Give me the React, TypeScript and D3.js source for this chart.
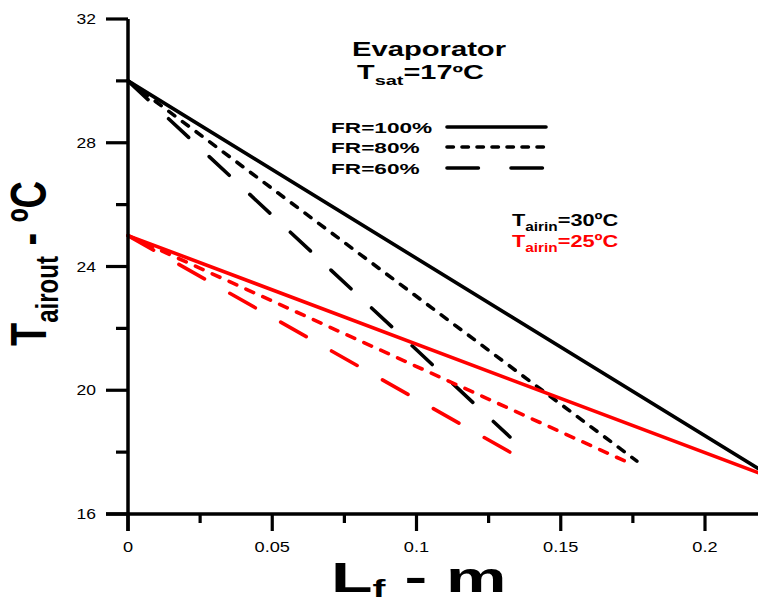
import React from "react";
import * as d3 from "d3";

const W = 758;
const H = 605;

// Data
const frLabels = ["FR=100%", "FR=80%", "FR=60%"];
const black100: [number, number][] = [[0, 30], [0.22, 17.38]];
const black80: [number, number][] = [[0, 30], [0.1764, 17.71]];
const black60: [number, number][] = [[0, 30], [0.1324, 18.49]];
const red100: [number, number][] = [[0, 25], [0.22, 17.28]];
const red80: [number, number][] = [[0, 25], [0.1737, 17.65]];
const red60: [number, number][] = [[0, 25], [0.1324, 18.0]];

const xMajor = [0, 0.05, 0.1, 0.15, 0.2];
const xMinor = [0.025, 0.075, 0.125, 0.175];
const xTickLabels = ["0", "0.05", "0.1", "0.15", "0.2"];
const yMajor = [16, 20, 24, 28, 32];
const yMinor = [18, 22, 26, 30];

const x = d3.scaleLinear().domain([0, 0.2]).range([128, 705]);
const y = d3.scaleLinear().domain([16, 32]).range([514, 19]);

const line = d3
  .line<[number, number]>()
  .x((d) => x(d[0]))
  .y((d) => y(d[1]));

const SW = 3.6;
const dash = (on: number, off: number) => `${on - SW},${off + SW}`;

const series = [
  { data: black100, color: "#000", dash: "none" },
  { data: black80, color: "#000", dash: dash(11, 6) },
  { data: black60, color: "#000", dash: dash(31, 24.5) },
  { data: red100, color: "#ff0000", dash: "none" },
  { data: red80, color: "#ff0000", dash: dash(12, 6.5) },
  { data: red60, color: "#ff0000", dash: dash(33, 25.5) },
];

const legendDash = ["none", dash(10, 5), dash(35, 29)];
const legendY = [127, 147, 168];

const FONT = "Liberation Sans, Arial, sans-serif";

export default function App() {
  return (
    <svg
      width={W}
      height={H}
      style={{ position: "absolute", left: 0, top: 0, background: "#fff" }}
      fontFamily={FONT}
    >
      <rect x={0} y={0} width={W} height={H} fill="#fff" />
      {/* data lines */}
      {series.map((s, i) => (
        <path
          key={i}
          d={line(s.data) || ""}
          fill="none"
          stroke={s.color}
          strokeWidth={SW}
          strokeDasharray={s.dash}
          strokeLinecap="round"
        />
      ))}
      {/* axes */}
      <line x1={x(0)} x2={x(0)} y1={y(32)} y2={y(16) + 17} stroke="#000" strokeWidth={3.5} />
      <line x1={x(0) - 22} x2={x(0.22)} y1={y(16)} y2={y(16)} stroke="#000" strokeWidth={3.5} />
      {xMajor.map((v) => (
        <line key={"xM" + v} x1={x(v)} x2={x(v)} y1={y(16)} y2={y(16) + 17} stroke="#000" strokeWidth={3.2} />
      ))}
      {xMinor.map((v) => (
        <line key={"xm" + v} x1={x(v)} x2={x(v)} y1={y(16)} y2={y(16) + 9} stroke="#000" strokeWidth={3.2} />
      ))}
      {yMajor.map((v) => (
        <line key={"yM" + v} x1={x(0) - 22} x2={x(0)} y1={y(v)} y2={y(v)} stroke="#000" strokeWidth={3.2} />
      ))}
      {yMinor.map((v) => (
        <line key={"ym" + v} x1={x(0) - 12} x2={x(0)} y1={y(v)} y2={y(v)} stroke="#000" strokeWidth={3.2} />
      ))}
      {/* tick labels */}
      {xMajor.map((v, i) => (
        <text
          key={"xl" + v}
          transform={`translate(${x(v)},552) scale(1.3,1)`}
          textAnchor="middle"
          fontSize={14}
        >
          {xTickLabels[i]}
        </text>
      ))}
      {yMajor.map((v) => (
        <text
          key={"yl" + v}
          transform={`translate(96,${y(v) + 5}) scale(1.25,1)`}
          textAnchor="end"
          fontSize={14}
        >
          {v}
        </text>
      ))}
      {/* axis titles */}
      <text transform="translate(331,592) scale(1.62,1)" fontSize={42} fontWeight="bold">
        L<tspan fontSize={24} dy={5}>f</tspan>
        <tspan dy={-5}> - m</tspan>
      </text>
      <text transform="translate(46,346) scale(1.3,1) rotate(-90)" fontSize={38} fontWeight="bold">
        T<tspan fontSize={24} dy={9.5}>airout</tspan>
        <tspan dy={-9.5}> - ºC</tspan>
      </text>
      {/* title */}
      <text transform="translate(429,56) scale(1.46,1)" textAnchor="middle" fontSize={20} fontWeight="bold">
        Evaporator
      </text>
      <text transform="translate(357,79) scale(1.48,1)" fontSize={19.5} fontWeight="bold">
        T<tspan fontSize={13.5} dy={6}>sat</tspan>
        <tspan dy={-6}>=17ºC</tspan>
      </text>
      {/* legend */}
      {frLabels.map((t, i) => (
        <g key={t}>
          <text transform={`translate(331,${legendY[i] + 6}) scale(1.46,1)`} fontSize={15.5} fontWeight="bold">
            {t}
          </text>
          <line
            x1={447}
            x2={546}
            y1={legendY[i]}
            y2={legendY[i]}
            stroke="#000"
            strokeWidth={SW}
            strokeDasharray={legendDash[i]}
            strokeLinecap="round"
          />
        </g>
      ))}
      <text transform="translate(512,226) scale(1.28,1)" fontSize={17} fontWeight="bold">
        T<tspan fontSize={12} dy={5}>airin</tspan>
        <tspan dy={-5}>=30ºC</tspan>
      </text>
      <text transform="translate(512,247) scale(1.28,1)" fontSize={17} fontWeight="bold" fill="#ff0000">
        T<tspan fontSize={12} dy={5}>airin</tspan>
        <tspan dy={-5}>=25ºC</tspan>
      </text>
    </svg>
  );
}
